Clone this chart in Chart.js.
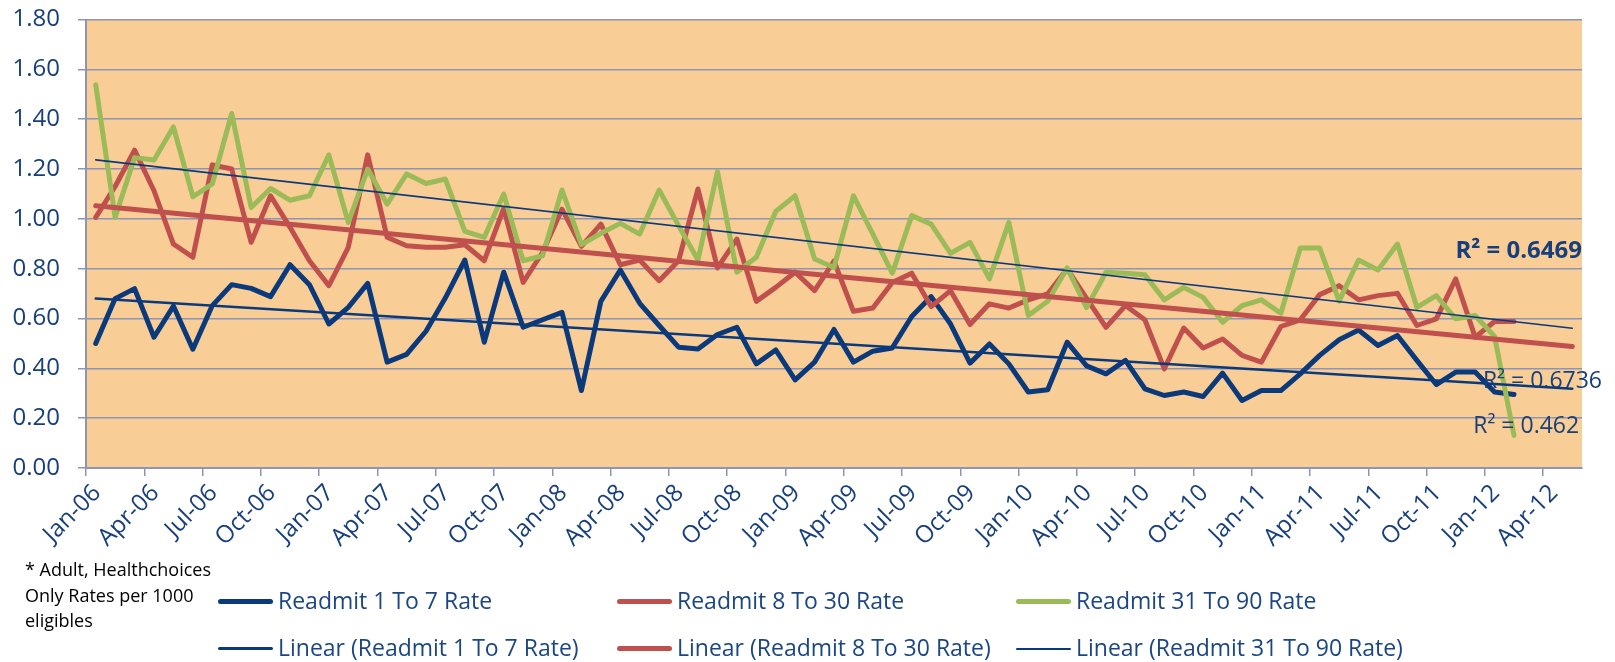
<!DOCTYPE html>
<html>
<head>
<meta charset="utf-8">
<script src="https://cdn.jsdelivr.net/npm/chart.js@4.4.1/dist/chart.umd.min.js"></script>
<style>
  html, body { margin: 0; padding: 0; background: #fff; }
  #wrap { position: relative; width: 1615px; height: 662px; font-family: "Open Sans", sans-serif; }
  #wrap canvas { position: absolute; left: 0; top: 0; }
  .note { position: absolute; left: 25px; top: 557px; font-size: 18px; line-height: 25.5px; color: #000; }
  .key { position: absolute; font-size: 23px; line-height: 23px; color: #1b4684; white-space: nowrap; }
  .key span { position: absolute; left: -60px; width: 55px; border-radius: 3px; }
</style>
</head>
<body>
<div id="wrap">
  <canvas id="chart" width="1615" height="662"></canvas>
  <div class="note">* Adult, Healthchoices<br>Only Rates per 1000<br>eligibles</div>
  <div id="legend"></div>
</div>
<script>
// month tick labels, one every 3 months starting Jan-06
const tickLabels = ['Jan-06', 'Apr-06', 'Jul-06', 'Oct-06', 'Jan-07', 'Apr-07', 'Jul-07', 'Oct-07',
  'Jan-08', 'Apr-08', 'Jul-08', 'Oct-08', 'Jan-09', 'Apr-09', 'Jul-09', 'Oct-09',
  'Jan-10', 'Apr-10', 'Jul-10', 'Oct-10', 'Jan-11', 'Apr-11', 'Jul-11', 'Oct-11',
  'Jan-12', 'Apr-12'];

// monthly rates Jan-06 .. Feb-12
const readmit1to7 = [0.50, 0.68, 0.72, 0.525, 0.65, 0.477, 0.652, 0.736, 0.721, 0.688, 0.816, 0.736, 0.578,
  0.645, 0.741, 0.425, 0.456, 0.549, 0.683, 0.835, 0.505, 0.786, 0.565, 0.595, 0.625, 0.311,
  0.669, 0.795, 0.661, 0.572, 0.485, 0.478, 0.536, 0.565, 0.418, 0.474, 0.354, 0.425, 0.556,
  0.425, 0.469, 0.482, 0.608, 0.688, 0.578, 0.421, 0.498, 0.418, 0.305, 0.314, 0.505, 0.41,
  0.378, 0.432, 0.318, 0.291, 0.305, 0.287, 0.381, 0.271, 0.311, 0.311, 0.378, 0.452, 0.515,
  0.554, 0.492, 0.532, 0.432, 0.335, 0.385, 0.385, 0.305, 0.295];

const readmit8to30 = [1.006, 1.13, 1.276, 1.113, 0.899, 0.846, 1.217, 1.20, 0.906, 1.093, 0.966, 0.832, 0.732,
  0.886, 1.257, 0.926, 0.892, 0.886, 0.886, 0.896, 0.832, 1.042, 0.745, 0.866, 1.039, 0.89,
  0.979, 0.816, 0.835, 0.752, 0.832, 1.12, 0.803, 0.919, 0.669, 0.725, 0.786, 0.712, 0.83,
  0.629, 0.642, 0.745, 0.782, 0.648, 0.712, 0.576, 0.659, 0.642, 0.675, 0.699, 0.799, 0.681,
  0.565, 0.652, 0.595, 0.398, 0.562, 0.482, 0.518, 0.452, 0.425, 0.568, 0.595, 0.696, 0.732,
  0.675, 0.692, 0.701, 0.572, 0.599, 0.759, 0.525, 0.588, 0.588];

const readmit31to90 = [1.538, 1.006, 1.246, 1.236, 1.369, 1.089, 1.14, 1.423, 1.046, 1.122, 1.075, 1.093, 1.257,
  0.986, 1.20, 1.059, 1.18, 1.142, 1.16, 0.95, 0.926, 1.10, 0.832, 0.852, 1.116, 0.897,
  0.942, 0.982, 0.939, 1.116, 0.973, 0.835, 1.19, 0.786, 0.846, 1.03, 1.093, 0.839, 0.805,
  1.093, 0.939, 0.782, 1.013, 0.979, 0.862, 0.906, 0.759, 0.986, 0.612, 0.669, 0.803, 0.644,
  0.786, 0.782, 0.776, 0.675, 0.725, 0.685, 0.585, 0.652, 0.675, 0.621, 0.883, 0.883, 0.67,
  0.835, 0.795, 0.899, 0.645, 0.692, 0.599, 0.612, 0.528, 0.131];

// linear trendlines: value at first month and at end of 3-month forecast
const trend1to7 = [0.68, 0.318];
const trend8to30 = [1.053, 0.488];
const trend31to90 = [1.237, 0.561];
const trendEndMonth = readmit1to7.length - 1 + 3;

const rSquared = [
  { text: 'R\u00b2 = 0.6469', bold: true, month: 77, value: 0.842, align: 'right' },
  { text: 'R\u00b2 = 0.6736', bold: false, month: 71.9, value: 0.322, align: 'left' },
  { text: 'R\u00b2 = 0.462', bold: false, month: 71.4, value: 0.14, align: 'left' }
];

const navy = '#0b3a7c';
const red = '#c0504d';
const green = '#9bbb59';
const textNavy = '#173f7c';
const gridColor = '#8c95b6';
const family = '"Open Sans", sans-serif';

const toPoints = arr => arr.map((v, i) => ({ x: i + 0.5, y: v }));
const toTrend = ends => [{ x: 0.5, y: ends[0] }, { x: trendEndMonth + 0.5, y: ends[1] }];

const plotBackground = {
  id: 'plotBackground',
  beforeDraw(chart) {
    const { ctx, chartArea: a } = chart;
    ctx.save();
    ctx.fillStyle = '#f9cd96';
    ctx.fillRect(a.left, a.top, a.width, a.height);
    ctx.restore();
  }
};

const rSquaredLabels = {
  id: 'rSquaredLabels',
  afterDatasetsDraw(chart) {
    const { ctx, scales } = chart;
    ctx.save();
    ctx.fillStyle = textNavy;
    ctx.textBaseline = 'alphabetic';
    rSquared.forEach(l => {
      ctx.font = (l.bold ? 'bold 24px ' : '23px ') + family;
      ctx.textAlign = l.align;
      ctx.fillText(l.text, scales.x.getPixelForValue(l.month), scales.y.getPixelForValue(l.value));
    });
    ctx.restore();
  }
};

new Chart(document.getElementById('chart'), {
  type: 'line',
  data: {
    datasets: [
      { label: 'Linear (Readmit 1 To 7 Rate)', data: toTrend(trend1to7), borderColor: navy, borderWidth: 2.5, order: 0 },
      { label: 'Linear (Readmit 8 To 30 Rate)', data: toTrend(trend8to30), borderColor: red, borderWidth: 5, order: 0 },
      { label: 'Linear (Readmit 31 To 90 Rate)', data: toTrend(trend31to90), borderColor: navy, borderWidth: 1.6, order: 0 },
      { label: 'Readmit 31 To 90 Rate', data: toPoints(readmit31to90), borderColor: green, borderWidth: 5, order: 1 },
      { label: 'Readmit 8 To 30 Rate', data: toPoints(readmit8to30), borderColor: red, borderWidth: 5, order: 2 },
      { label: 'Readmit 1 To 7 Rate', data: toPoints(readmit1to7), borderColor: navy, borderWidth: 5, order: 3 }
    ]
  },
  options: {
    responsive: false,
    animation: false,
    layout: { padding: { top: 19.6, right: 33, bottom: 114, left: 0 } },
    elements: {
      point: { radius: 0, hoverRadius: 0 },
      line: { tension: 0, borderJoinStyle: 'round', borderCapStyle: 'round', fill: false }
    },
    plugins: {
      legend: { display: false },
      tooltip: { enabled: false }
    },
    scales: {
      x: {
        type: 'linear',
        min: 0,
        max: 77,
        afterBuildTicks: axis => { axis.ticks = tickLabels.map((_, k) => ({ value: k * 3 })); },
        afterFit: axis => { axis.height = 80; },
        ticks: {
          autoSkip: false,
          minRotation: 45,
          maxRotation: 45,
          labelOffset: 11,
          padding: 3,
          color: textNavy,
          font: { family, size: 24 },
          callback: v => tickLabels[Math.round(v / 3)]
        },
        grid: { drawOnChartArea: false, drawTicks: true, tickLength: 8, color: gridColor, lineWidth: 1.5 },
        border: { display: true, color: gridColor, width: 2 }
      },
      y: {
        min: 0,
        max: 1.8,
        afterFit: axis => { axis.width = 86; axis.paddingTop = 0; axis.paddingBottom = 0; },
        ticks: {
          stepSize: 0.2,
          padding: 18,
          color: textNavy,
          font: { family, size: 24 },
          callback: v => v.toFixed(2)
        },
        grid: { color: gridColor, lineWidth: 1.5, tickLength: 8 },
        border: { display: true, color: gridColor, width: 2 }
      }
    }
  },
  plugins: [plotBackground, rSquaredLabels]
});

// legend: two rows, three columns
const legendItems = [
  { text: 'Readmit 1 To 7 Rate', color: navy, width: 5, left: 278, top: 589 },
  { text: 'Readmit 8 To 30 Rate', color: red, width: 5, left: 677, top: 589 },
  { text: 'Readmit 31 To 90 Rate', color: green, width: 5, left: 1076, top: 589 },
  { text: 'Linear (Readmit 1 To 7 Rate)', color: navy, width: 3, left: 278, top: 636 },
  { text: 'Linear (Readmit 8 To 30 Rate)', color: red, width: 5, left: 677, top: 636 },
  { text: 'Linear (Readmit 31 To 90 Rate)', color: navy, width: 2, left: 1076, top: 636 }
];
const legend = document.getElementById('legend');
legendItems.forEach(it => {
  const d = document.createElement('div');
  d.className = 'key';
  d.style.left = it.left + 'px';
  d.style.top = it.top + 'px';
  const s = document.createElement('span');
  s.style.background = it.color;
  s.style.height = it.width + 'px';
  s.style.top = (12.5 - it.width / 2) + 'px';
  d.appendChild(s);
  d.appendChild(document.createTextNode(it.text));
  legend.appendChild(d);
});
</script>
</body>
</html>
